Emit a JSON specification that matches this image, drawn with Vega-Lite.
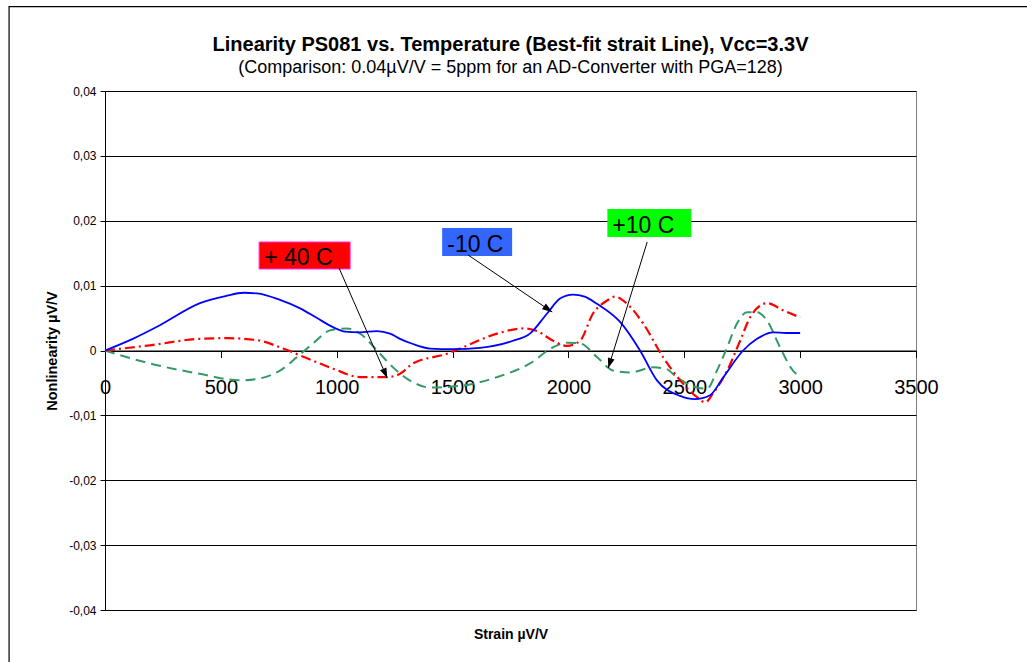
{
  "$schema": "https://vega.github.io/schema/vega-lite/v6.json",
  "width": 811,
  "height": 519,
  "autosize": "none",
  "padding": {"left": 105, "top": 91, "right": 111, "bottom": 52},
  "background": "white",
  "config": {
    "font": "Liberation Sans",
    "view": {"stroke": "#808080", "strokeWidth": 1},
    "axis": {"labelColor": "black", "titleColor": "black", "domainColor": "black", "tickColor": "black", "labelFont": "Liberation Sans", "titleFont": "Liberation Sans"}
  },
  "title": {
    "text": "Linearity PS081 vs. Temperature (Best-fit strait Line), Vcc=3.3V",
    "subtitle": "(Comparison: 0.04µV/V = 5ppm for an AD-Converter with PGA=128)",
    "font": "Liberation Sans",
    "subtitleFont": "Liberation Sans",
    "fontSize": 20,
    "fontWeight": "bold",
    "subtitleFontSize": 18,
    "color": "black",
    "subtitleColor": "black",
    "anchor": "middle",
    "frame": "group",
    "offset": -71,
    "subtitlePadding": 4
  },
  "data": {"values": [{}]},
  "datasets": {
    "curves": [
      {"s": "-10 C", "x": 0, "y": 0},
      {"s": "-10 C", "x": 120, "y": 0.0018},
      {"s": "-10 C", "x": 237, "y": 0.0039},
      {"s": "-10 C", "x": 410, "y": 0.0073},
      {"s": "-10 C", "x": 520, "y": 0.0084},
      {"s": "-10 C", "x": 600, "y": 0.0089},
      {"s": "-10 C", "x": 656, "y": 0.0088},
      {"s": "-10 C", "x": 755, "y": 0.0078},
      {"s": "-10 C", "x": 842, "y": 0.0065},
      {"s": "-10 C", "x": 915, "y": 0.005},
      {"s": "-10 C", "x": 984, "y": 0.0036},
      {"s": "-10 C", "x": 1036, "y": 0.0029},
      {"s": "-10 C", "x": 1100, "y": 0.0028},
      {"s": "-10 C", "x": 1174, "y": 0.003},
      {"s": "-10 C", "x": 1230, "y": 0.0026},
      {"s": "-10 C", "x": 1273, "y": 0.0018},
      {"s": "-10 C", "x": 1329, "y": 0.001},
      {"s": "-10 C", "x": 1403, "y": 0.0003},
      {"s": "-10 C", "x": 1500, "y": 0.0002},
      {"s": "-10 C", "x": 1618, "y": 0.0004},
      {"s": "-10 C", "x": 1761, "y": 0.0015},
      {"s": "-10 C", "x": 1834, "y": 0.0026},
      {"s": "-10 C", "x": 1908, "y": 0.0057},
      {"s": "-10 C", "x": 1964, "y": 0.008},
      {"s": "-10 C", "x": 2020, "y": 0.0086},
      {"s": "-10 C", "x": 2070, "y": 0.0083},
      {"s": "-10 C", "x": 2123, "y": 0.0072},
      {"s": "-10 C", "x": 2223, "y": 0.0044},
      {"s": "-10 C", "x": 2309, "y": 0},
      {"s": "-10 C", "x": 2382, "y": -0.0046},
      {"s": "-10 C", "x": 2482, "y": -0.007},
      {"s": "-10 C", "x": 2546, "y": -0.0075},
      {"s": "-10 C", "x": 2611, "y": -0.0069},
      {"s": "-10 C", "x": 2667, "y": -0.0042},
      {"s": "-10 C", "x": 2754, "y": 0},
      {"s": "-10 C", "x": 2814, "y": 0.0018},
      {"s": "-10 C", "x": 2883, "y": 0.0028},
      {"s": "-10 C", "x": 2940, "y": 0.0027},
      {"s": "-10 C", "x": 3000, "y": 0.0027},
      {"s": "+40 C", "x": 0, "y": 0},
      {"s": "+40 C", "x": 194, "y": 0.0008},
      {"s": "+40 C", "x": 410, "y": 0.0018},
      {"s": "+40 C", "x": 527, "y": 0.0019},
      {"s": "+40 C", "x": 656, "y": 0.0016},
      {"s": "+40 C", "x": 768, "y": 0.0003},
      {"s": "+40 C", "x": 872, "y": -0.0012},
      {"s": "+40 C", "x": 984, "y": -0.0028},
      {"s": "+40 C", "x": 1101, "y": -0.0041},
      {"s": "+40 C", "x": 1217, "y": -0.0041},
      {"s": "+40 C", "x": 1273, "y": -0.0036},
      {"s": "+40 C", "x": 1329, "y": -0.002},
      {"s": "+40 C", "x": 1476, "y": -0.0005},
      {"s": "+40 C", "x": 1545, "y": 0.0005},
      {"s": "+40 C", "x": 1692, "y": 0.0026},
      {"s": "+40 C", "x": 1804, "y": 0.0034},
      {"s": "+40 C", "x": 1864, "y": 0.003},
      {"s": "+40 C", "x": 1934, "y": 0.0015},
      {"s": "+40 C", "x": 1994, "y": 0.0007},
      {"s": "+40 C", "x": 2050, "y": 0.0015},
      {"s": "+40 C", "x": 2106, "y": 0.0057},
      {"s": "+40 C", "x": 2167, "y": 0.0077},
      {"s": "+40 C", "x": 2200, "y": 0.0083},
      {"s": "+40 C", "x": 2253, "y": 0.0072},
      {"s": "+40 C", "x": 2322, "y": 0.0042},
      {"s": "+40 C", "x": 2408, "y": -0.001},
      {"s": "+40 C", "x": 2482, "y": -0.0046},
      {"s": "+40 C", "x": 2555, "y": -0.0072},
      {"s": "+40 C", "x": 2590, "y": -0.008},
      {"s": "+40 C", "x": 2624, "y": -0.0066},
      {"s": "+40 C", "x": 2685, "y": -0.0031},
      {"s": "+40 C", "x": 2741, "y": 0.0015},
      {"s": "+40 C", "x": 2784, "y": 0.0051},
      {"s": "+40 C", "x": 2857, "y": 0.0073},
      {"s": "+40 C", "x": 2926, "y": 0.0062},
      {"s": "+40 C", "x": 3000, "y": 0.0051},
      {"s": "+10 C", "x": 0, "y": 0},
      {"s": "+10 C", "x": 194, "y": -0.002},
      {"s": "+10 C", "x": 410, "y": -0.0036},
      {"s": "+10 C", "x": 583, "y": -0.0046},
      {"s": "+10 C", "x": 669, "y": -0.0043},
      {"s": "+10 C", "x": 755, "y": -0.0031},
      {"s": "+10 C", "x": 829, "y": -0.001},
      {"s": "+10 C", "x": 898, "y": 0.0011},
      {"s": "+10 C", "x": 971, "y": 0.0031},
      {"s": "+10 C", "x": 1044, "y": 0.0034},
      {"s": "+10 C", "x": 1101, "y": 0.0026},
      {"s": "+10 C", "x": 1174, "y": 0},
      {"s": "+10 C", "x": 1243, "y": -0.0026},
      {"s": "+10 C", "x": 1329, "y": -0.0049},
      {"s": "+10 C", "x": 1403, "y": -0.0057},
      {"s": "+10 C", "x": 1545, "y": -0.0054},
      {"s": "+10 C", "x": 1692, "y": -0.0041},
      {"s": "+10 C", "x": 1834, "y": -0.002},
      {"s": "+10 C", "x": 1934, "y": 0.0005},
      {"s": "+10 C", "x": 1994, "y": 0.0012},
      {"s": "+10 C", "x": 2050, "y": 0.0011},
      {"s": "+10 C", "x": 2123, "y": -0.001},
      {"s": "+10 C", "x": 2193, "y": -0.0031},
      {"s": "+10 C", "x": 2266, "y": -0.0034},
      {"s": "+10 C", "x": 2365, "y": -0.0026},
      {"s": "+10 C", "x": 2420, "y": -0.0028},
      {"s": "+10 C", "x": 2470, "y": -0.0042},
      {"s": "+10 C", "x": 2555, "y": -0.0057},
      {"s": "+10 C", "x": 2598, "y": -0.0059},
      {"s": "+10 C", "x": 2641, "y": -0.0031},
      {"s": "+10 C", "x": 2685, "y": 0.0005},
      {"s": "+10 C", "x": 2728, "y": 0.0042},
      {"s": "+10 C", "x": 2771, "y": 0.0059},
      {"s": "+10 C", "x": 2814, "y": 0.0059},
      {"s": "+10 C", "x": 2857, "y": 0.0046},
      {"s": "+10 C", "x": 2913, "y": 0.0005},
      {"s": "+10 C", "x": 2969, "y": -0.0031},
      {"s": "+10 C", "x": 3000, "y": -0.004}
    ]
  },
  "layer": [
    {
      "data": {"name": "curves"},
      "transform": [{"filter": "datum.s === '+10 C'"}],
      "mark": {"type": "line", "color": "#339966", "strokeWidth": 2, "strokeDash": [10, 6], "interpolate": "monotone"},
      "encoding": {
        "x": {
          "field": "x", "type": "quantitative",
          "scale": {"domain": [0, 3500], "nice": false, "zero": false},
          "axis": {
            "title": "Strain µV/V",
            "titleFontSize": 14, "titleFontWeight": "bold",
            "titleY": 284, "titleBaseline": "middle",
            "values": [0, 500, 1000, 1500, 2000, 2500, 3000, 3500],
            "format": "d",
            "offset": -259.5,
            "grid": false,
            "tickSize": 7,
            "labelFontSize": 20,
            "labelPadding": 20,
            "labelFlush": false,
            "labelOverlap": false,
            "labelBound": false
          }
        },
        "y": {
          "field": "y", "type": "quantitative",
          "scale": {"domain": [-0.04, 0.04], "nice": false, "zero": false},
          "axis": {
            "title": "Nonlinearity µV/V",
            "titleFontSize": 14.5, "titleFontWeight": "bold",
            "titleX": -53, "titleY": 259.5, "titleBaseline": "middle",
            "values": [-0.04, -0.03, -0.02, -0.01, 0, 0.01, 0.02, 0.03, 0.04],
            "labelExpr": "datum.value == 0 ? '0' : (datum.value < 0 ? '-' : '') + replace(format(abs(datum.value), '.2f'), '.', ',')",
            "grid": true, "gridColor": "black", "gridWidth": 1,
            "tickSize": 5,
            "labelFontSize": 12,
            "labelPadding": 4,
            "labelFlush": false,
            "labelOverlap": false
          }
        }
      }
    },
    {
      "data": {"name": "curves"},
      "transform": [{"filter": "datum.s === '+40 C'"}],
      "mark": {"type": "line", "color": "#FF0000", "strokeWidth": 2.2, "strokeDash": [10, 4, 2, 4], "interpolate": "monotone"},
      "encoding": {
        "x": {"field": "x", "type": "quantitative"},
        "y": {"field": "y", "type": "quantitative"}
      }
    },
    {
      "data": {"name": "curves"},
      "transform": [{"filter": "datum.s === '-10 C'"}],
      "mark": {"type": "line", "color": "#0000FF", "strokeWidth": 1.8, "interpolate": "monotone"},
      "encoding": {
        "x": {"field": "x", "type": "quantitative"},
        "y": {"field": "y", "type": "quantitative"}
      }
    },
    {
      "mark": {"type": "rect", "fill": null, "stroke": "black", "strokeWidth": 1.2},
      "encoding": {
        "x": {"datum": -414, "type": "quantitative"},
        "x2": {"datum": 4700},
        "y": {"datum": 0.053, "type": "quantitative"},
        "y2": {"datum": -0.08}
      }
    },
    {
      "mark": {"type": "rect", "fill": "#FF0000", "stroke": "#FF33FF", "strokeWidth": 1},
      "encoding": {
        "x": {"datum": 665, "type": "quantitative"},
        "x2": {"datum": 1058},
        "y": {"datum": 0.01673, "type": "quantitative"},
        "y2": {"datum": 0.01256}
      }
    },
    {
      "mark": {"type": "rect", "fill": "#3366FF"},
      "encoding": {
        "x": {"datum": 1455, "type": "quantitative"},
        "x2": {"datum": 1757},
        "y": {"datum": 0.01888, "type": "quantitative"},
        "y2": {"datum": 0.01457}
      }
    },
    {
      "mark": {"type": "rect", "fill": "#00FF00"},
      "encoding": {
        "x": {"datum": 2168, "type": "quantitative"},
        "x2": {"datum": 2530},
        "y": {"datum": 0.02181, "type": "quantitative"},
        "y2": {"datum": 0.0175}
      }
    },
    {
      "mark": {"type": "text", "text": "+ 40 C", "fontSize": 23, "align": "left", "baseline": "alphabetic", "color": "black", "font": "Liberation Sans"},
      "encoding": {
        "x": {"datum": 687, "type": "quantitative"},
        "y": {"datum": 0.01318, "type": "quantitative"}
      }
    },
    {
      "mark": {"type": "text", "text": "-10 C", "fontSize": 23, "align": "left", "baseline": "alphabetic", "color": "black", "font": "Liberation Sans"},
      "encoding": {
        "x": {"datum": 1477, "type": "quantitative"},
        "y": {"datum": 0.01518, "type": "quantitative"}
      }
    },
    {
      "mark": {"type": "text", "text": "+10 C", "fontSize": 23, "align": "left", "baseline": "alphabetic", "color": "black", "font": "Liberation Sans"},
      "encoding": {
        "x": {"datum": 2189, "type": "quantitative"},
        "y": {"datum": 0.01811, "type": "quantitative"}
      }
    },
    {
      "mark": {"type": "rule", "color": "black", "strokeWidth": 1},
      "encoding": {
        "x": {"datum": 1010, "type": "quantitative"},
        "y": {"datum": 0.01272, "type": "quantitative"},
        "x2": {"datum": 1218},
        "y2": {"datum": -0.00424}
      }
    },
    {
      "mark": {"type": "rule", "color": "black", "strokeWidth": 1},
      "encoding": {
        "x": {"datum": 1567, "type": "quantitative"},
        "y": {"datum": 0.01472, "type": "quantitative"},
        "x2": {"datum": 1930},
        "y2": {"datum": 0.00593}
      }
    },
    {
      "mark": {"type": "rule", "color": "black", "strokeWidth": 1},
      "encoding": {
        "x": {"datum": 2340, "type": "quantitative"},
        "y": {"datum": 0.01673, "type": "quantitative"},
        "x2": {"datum": 2172},
        "y2": {"datum": -0.0027}
      }
    },
    {
      "mark": {"type": "point", "shape": "M0,0L-0.35,1L0.35,1Z", "filled": true, "color": "black", "opacity": 1, "size": 400, "angle": 156.4},
      "encoding": {
        "x": {"datum": 1218, "type": "quantitative"},
        "y": {"datum": -0.00424, "type": "quantitative"}
      }
    },
    {
      "mark": {"type": "point", "shape": "M0,0L-0.35,1L0.35,1Z", "filled": true, "color": "black", "opacity": 1, "size": 400, "angle": 124.2},
      "encoding": {
        "x": {"datum": 1930, "type": "quantitative"},
        "y": {"datum": 0.00593, "type": "quantitative"}
      }
    },
    {
      "mark": {"type": "point", "shape": "M0,0L-0.35,1L0.35,1Z", "filled": true, "color": "black", "opacity": 1, "size": 400, "angle": 197.2},
      "encoding": {
        "x": {"datum": 2172, "type": "quantitative"},
        "y": {"datum": -0.0027, "type": "quantitative"}
      }
    }
  ]
}
